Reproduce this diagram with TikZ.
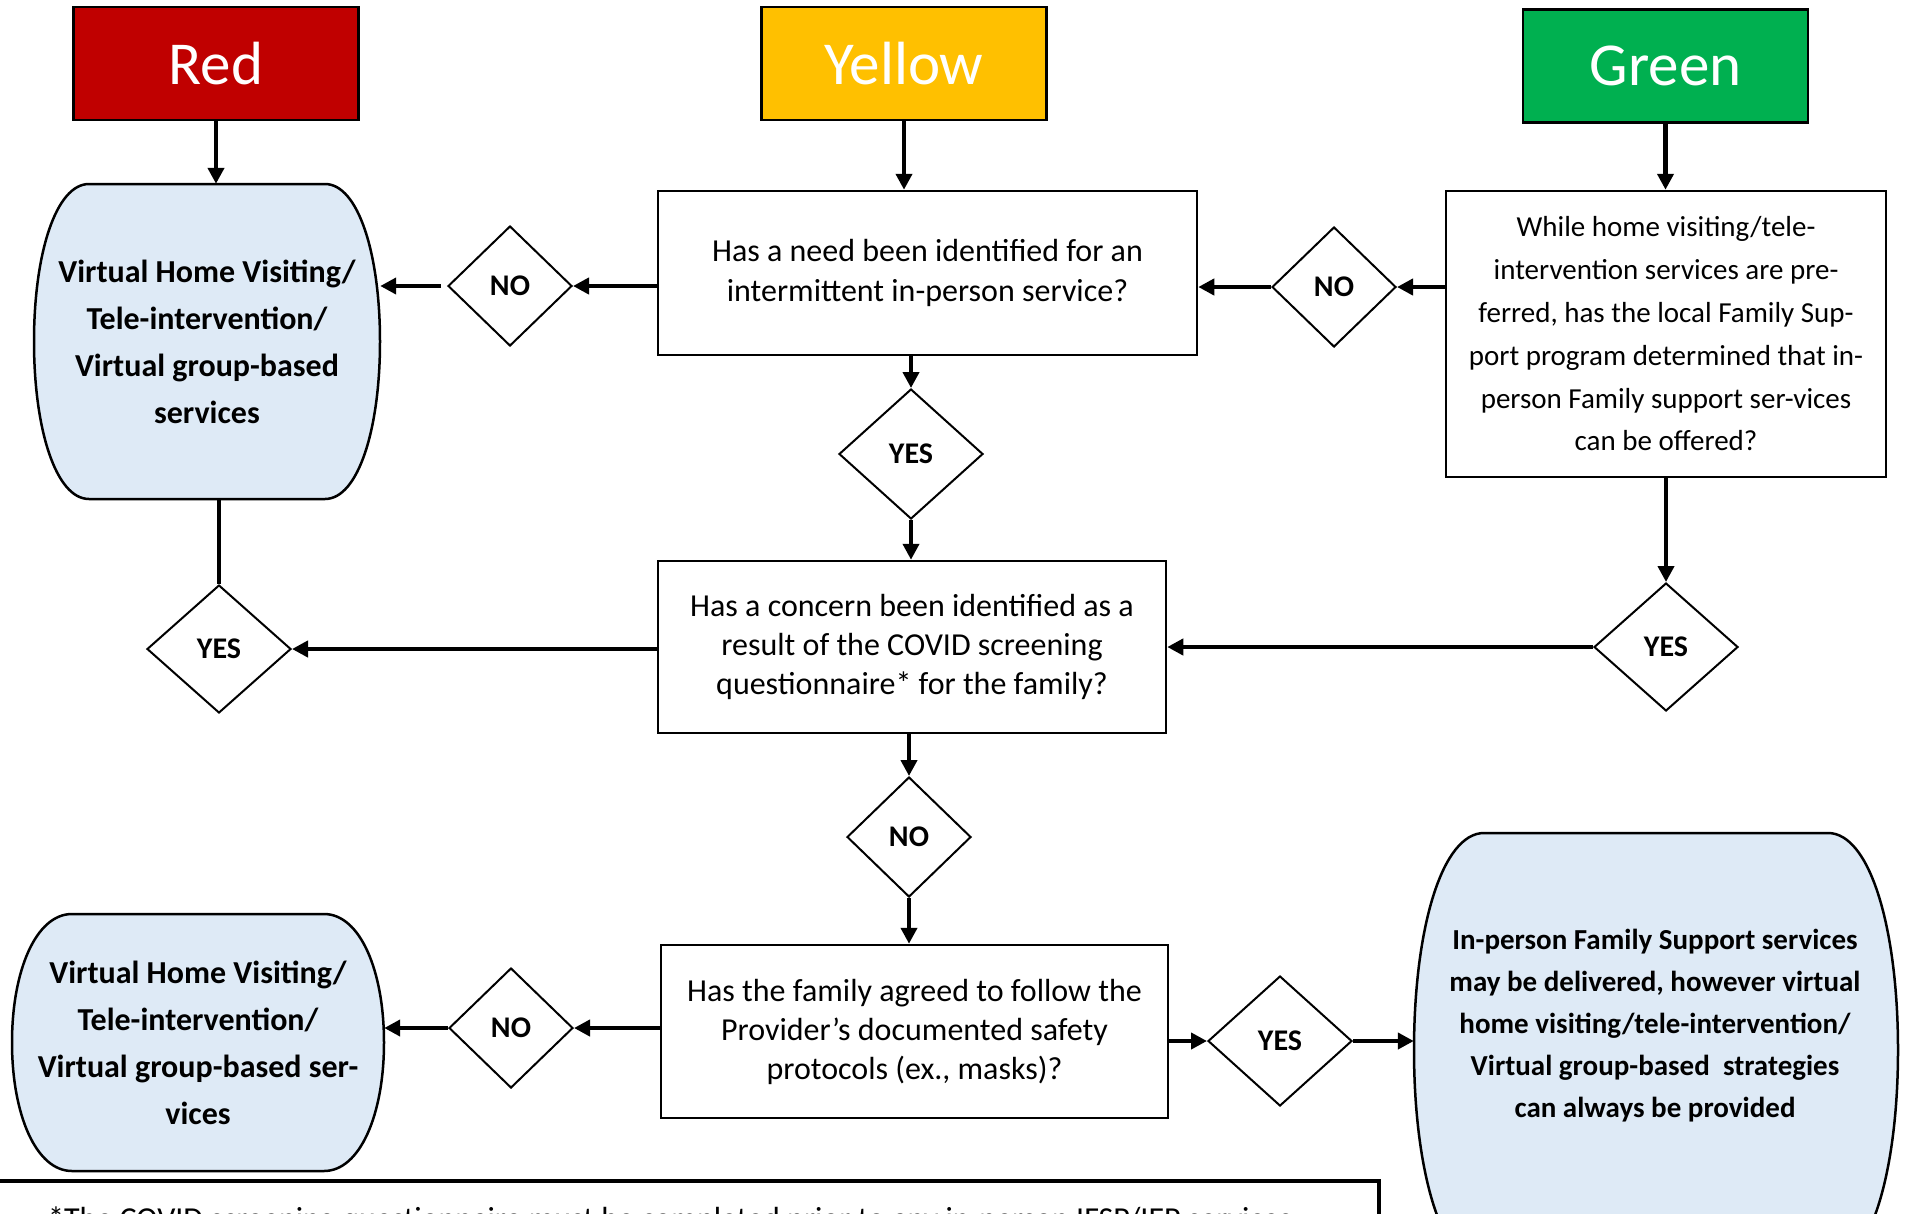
\documentclass[tikz,border=0pt]{standalone}
\usepackage{fontspec}
\setmainfont{Carlito}
\usetikzlibrary{shapes.geometric,arrows.meta,calc}
\definecolor{cred}{HTML}{C00000}
\definecolor{cyellow}{HTML}{FFC000}
\definecolor{cgreen}{HTML}{00B050}
\definecolor{cblue}{HTML}{DEEAF6}
\newcommand{\barrelpath}[5]{%
  \draw[capshape] ({#1+#5},#2) -- ({#3-#5},#2)
    .. controls ({#3-0.4*#5},#2) and (#3,{#2+0.22*(#4-#2)}) .. (#3,{(#2+#4)/2})
    .. controls (#3,{#4-0.22*(#4-#2)}) and ({#3-0.4*#5},#4) .. ({#3-#5},#4)
    -- ({#1+#5},#4)
    .. controls ({#1+0.4*#5},#4) and (#1,{#4-0.22*(#4-#2)}) .. (#1,{(#2+#4)/2})
    .. controls (#1,{#2+0.22*(#4-#2)}) and ({#1+0.4*#5},#2) .. cycle;}
\begin{document}
\begin{tikzpicture}[x=1pt,y=-1pt,
 title/.style={draw=black,line width=2.5pt,minimum width=285pt,minimum height=113pt,inner sep=0pt,text=white,font=\fontsize{61}{70}\selectfont},
 qbox/.style={draw=black,line width=2.5pt,inner sep=0pt,align=center,font=\fontsize{32}{40}\selectfont},
 dec/.style={diamond,draw=black,line width=2pt,inner sep=0pt,font=\bfseries\fontsize{30}{36}\selectfont},
 capbox/.style={inner sep=0pt,align=center,font=\bfseries\fontsize{32}{47}\selectfont},
 capshape/.style={draw=black,line width=2.5pt,fill=cblue},
 arr/.style={line width=4.5pt,-{Triangle[length=16pt,width=16pt]}},
 plainline/.style={line width=4.5pt}]
\useasboundingbox (0,0) rectangle (1908,1213);
\clip (0,0) rectangle (1908,1213);
\fill[white] (0,0) rectangle (1908,1213);

% title boxes
\node[title,fill=cred] (red) at (216,63.5) {Red};
\node[title,fill=cyellow] (yellow) at (904,63.5) {Yellow};
\node[title,fill=cgreen] (green) at (1665.5,66) {Green};

% capsules
\barrelpath{34}{184}{380}{499}{55}
\node[capbox,minimum width=346pt,minimum height=315pt] (cap1) at (207,341.5)
 {Virtual Home Visiting/\\Tele-intervention/\\Virtual group-based\\services};
\barrelpath{12}{914}{384}{1171}{60}
\node[capbox,minimum width=372pt,minimum height=257pt] (cap2) at (198,1042.5)
 {Virtual Home Visiting/\\Tele-intervention/\\Virtual group-based ser-\\vices};
\barrelpath{1414}{833}{1898}{1267}{70}
\node[inner sep=0pt,minimum width=484pt,minimum height=434pt] (cap3) at (1656,1050) {};
\node[capbox,font=\bfseries\fontsize{29}{42}\selectfont] (cap3t) at (1655,1026)
 {In-person Family Support services\\may be delivered, however virtual\\home visiting/tele-intervention/\\Virtual group-based\ \ strategies\\can always be provided};

% question boxes
\node[qbox,minimum width=539pt,minimum height=164pt] (box1) at (927.5,273)
 {Has a need been identified for an\\intermittent in-person service?};
\node[qbox,minimum width=440pt,minimum height=286pt,font=\fontsize{29}{42.8}\selectfont] (rbox) at (1666,334)
 {While home visiting/tele-\\intervention services are pre-\\ferred, has the local Family Sup-\\port program determined that in-\\person Family support ser-vices\\can be offered?};
\node[qbox,minimum width=508pt,minimum height=172pt,font=\fontsize{32}{39}\selectfont] (box2) at (912,647)
 {Has a concern been identified as a\\result of the COVID screening\\questionnaire* for the family?};
\node[qbox,minimum width=507pt,minimum height=173pt,font=\fontsize{32}{39}\selectfont] (box3) at (914.5,1031.5)
 {Has the family agreed to follow the\\Provider’s documented safety\\protocols (ex., masks)?};

% decisions
\node[dec,minimum width=124pt,minimum height=120pt] (no1) at (510,286) {NO};
\node[dec,minimum width=124pt,minimum height=120pt] (no2) at (1334,287) {NO};
\node[dec,minimum width=144pt,minimum height=130pt] (yes1) at (911,454) {YES};
\node[dec,minimum width=144pt,minimum height=128pt] (yes2) at (219,649) {YES};
\node[dec,minimum width=144pt,minimum height=128pt] (yes3) at (1666,647) {YES};
\node[dec,minimum width=124pt,minimum height=120pt] (no3) at (909,837) {NO};
\node[dec,minimum width=124pt,minimum height=120pt] (no4) at (511,1028) {NO};
\node[dec,minimum width=144pt,minimum height=130pt] (yes4) at (1280,1041) {YES};

% connectors
\draw[arr] (red.south) -- (red.south |- cap1.north);
\draw[arr] (yellow.south) -- (yellow.south |- box1.north);
\draw[arr] (green.south) -- (green.south |- rbox.north);
\draw[arr] (box1.west |- no1) -- (no1.east);
\draw[arr] ($(no1.west)+(-6,0)$) -- (no1.west -| cap1.east);
\draw[arr] (rbox.west |- no2) -- (no2.east);
\draw[arr] (no2.west) -- (no2.west -| box1.east);
\draw[arr] (yes1 |- box1.south) -- (yes1.north);
\draw[arr] (yes1.south) -- (yes1.south |- box2.north);
\draw[plainline] (yes2 |- cap1.south) -- (yes2.north);
\draw[arr] (box2.west |- yes2) -- (yes2.east);
\draw[arr] (yes3 |- rbox.south) -- (yes3.north);
\draw[arr] (yes3.west) -- (yes3.west -| box2.east);
\draw[arr] (no3 |- box2.south) -- (no3.north);
\draw[arr] (no3.south) -- (no3.south |- box3.north);
\draw[arr] (box3.west |- no4) -- (no4.east);
\draw[arr] (no4.west) -- (no4.west -| cap2.east);
\draw[arr] (box3.east |- yes4) -- (yes4.west);
\draw[arr] (yes4.east) -- (yes4.east -| cap3.west);

% footnote
\draw[line width=3.5pt] (-5,1181) -- (1379,1181) -- (1379,1235);
\node[anchor=base west,inner sep=0pt,font=\fontsize{32}{38}\selectfont] (foot) at (48,1229)
 {*The COVID screening questionnaire must be completed prior to any in-person IFSP/IEP services};
\end{tikzpicture}
\end{document}
